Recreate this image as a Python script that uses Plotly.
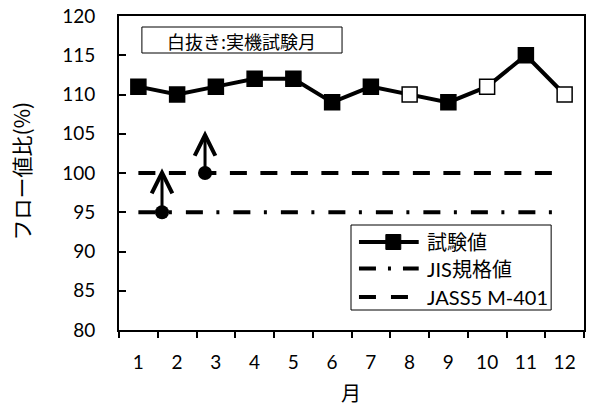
import plotly.graph_objects as go

# ---- data -------------------------------------------------------------
months = list(range(1, 13))
month_labels = [str(m) for m in months]
flow_ratio = [111, 110, 111, 112, 112, 109, 111, 110, 109, 111, 115, 110]
# months where the real-machine test was run (drawn as open squares)
field_test = [False, False, False, False, False, False, False, True, False, True, False, True]

jis_value = 95          # JIS standard
jass_value = 100        # JASS5 M-401
limit_span = [1, 12]

# lower-limit markers with "at least" arrows
limit_x = [1.61, 2.72]
limit_y = [jis_value, jass_value]
limit_tip = [100.6, 105.4]

series_name = "試験値"
jis_name = "JIS規格値"
jass_name = "JASS5 M-401"
note_text = "白抜き:実機試験月"
x_title = "月"
y_title = "フロー値比(%)"

# ---- layout geometry ---------------------------------------------------
W, H = 590, 408
L, R, T, B = 119, 4, 16, 78
PW = W - L - R
PH = H - T - B


def px(x):
    return (x - L) / PW


def py(y):
    return (H - B - y) / PH


NUM_FONT = "Lato, Noto Sans CJK JP, sans-serif"
CJK_FONT = "Noto Sans CJK JP, sans-serif"
JASS_DASH = "17px,13.5px"
JIS_DASH = "17px,13.5px,3px,14px"

fig = go.Figure()

fig.add_trace(go.Scatter(
    x=limit_span, y=[jass_value] * 2, mode="lines", name=jass_name,
    line=dict(color="black", width=4, dash=JASS_DASH), showlegend=False))
fig.add_trace(go.Scatter(
    x=limit_span, y=[jis_value] * 2, mode="lines", name=jis_name,
    line=dict(color="black", width=4, dash=JIS_DASH), showlegend=False))

fig.add_trace(go.Scatter(
    x=months, y=flow_ratio, mode="lines+markers", name=series_name,
    line=dict(color="black", width=4),
    marker=dict(symbol="square", size=15,
                color=["white" if f else "black" for f in field_test],
                line=dict(color="black", width=1.5)),
    showlegend=False))

fig.add_trace(go.Scatter(
    x=limit_x, y=limit_y, mode="markers",
    marker=dict(symbol="circle", size=14, color="black"),
    showlegend=False))

annotations = []
for x0, y0, y1 in zip(limit_x, limit_y, limit_tip):
    annotations.append(dict(
        x=x0, y=y1, ax=x0, ay=y0, xref="x", yref="y", axref="x", ayref="y",
        text="", showarrow=True, arrowhead=5, arrowsize=1.35, arrowwidth=3,
        arrowcolor="black"))

shapes = []
# note box
shapes.append(dict(type="rect", xref="paper", yref="paper",
                   x0=px(142), x1=px(343), y0=py(53), y1=py(27),
                   line=dict(color="black", width=1), fillcolor="white", layer="above"))
annotations.append(dict(text=note_text, xref="paper", yref="paper",
                        x=px(242.5), y=py(40.5), xanchor="center", yanchor="middle",
                        showarrow=False, font=dict(family=CJK_FONT, size=18, color="black")))

# legend box
shapes.append(dict(type="rect", xref="paper", yref="paper",
                   x0=px(352), x1=px(553), y0=py(310), y1=py(225),
                   line=dict(color="black", width=1), fillcolor="white", layer="above"))
rows = [242, 268.5, 297]
dashes = ["solid", "17px,12px,3px,12px", "17px,15px"]
labels = [series_name, jis_name, jass_name]
for ry, dsh, lab in zip(rows, dashes, labels):
    shapes.append(dict(type="line", xref="paper", yref="paper",
                       x0=px(360), x1=px(420), y0=py(ry), y1=py(ry),
                       line=dict(color="black", width=4, dash=dsh), layer="above"))
    annotations.append(dict(text=lab, xref="paper", yref="paper",
                            x=px(426), y=py(ry), xanchor="left", yanchor="middle",
                            showarrow=False,
                            font=dict(family=NUM_FONT, size=20, color="black")))
shapes.append(dict(type="rect", xref="paper", yref="paper",
                   x0=px(387), x1=px(402), y0=py(249.5), y1=py(234.5),
                   line=dict(color="black", width=1), fillcolor="black", layer="above"))

# axis titles
annotations.append(dict(text=x_title, xref="paper", yref="paper",
                        x=px(352), y=py(392), xanchor="center", yanchor="middle",
                        showarrow=False, borderpad=0,
                        font=dict(family=CJK_FONT, size=20, color="black")))
annotations.append(dict(text=y_title, xref="paper", yref="paper",
                        x=px(21), y=py(171), xanchor="center", yanchor="middle",
                        textangle=-90, showarrow=False,
                        font=dict(family=CJK_FONT, size=21, color="black")))

boundaries = [m - 0.5 for m in months] + [months[-1] + 0.5]

fig.update_layout(
    width=W, height=H, margin=dict(l=L, r=R, t=T, b=B),
    paper_bgcolor="white", plot_bgcolor="white",
    shapes=shapes, annotations=annotations, showlegend=False,
    xaxis=dict(range=[boundaries[0], boundaries[-1]], tickvals=months, ticktext=month_labels,
               ticks="", showline=True, mirror=True, linecolor="black", linewidth=2,
               showgrid=False, zeroline=False, ticklabelstandoff=14,
               tickfont=dict(family=NUM_FONT, size=19, color="black"),
               minor=dict(tickvals=boundaries, ticks="outside", ticklen=6,
                          tickwidth=1.5, tickcolor="black", showgrid=False)),
    yaxis=dict(range=[80, 120], dtick=5, ticks="inside", ticklen=7, tickwidth=1.5,
               tickcolor="black", showline=True, mirror=True, linecolor="black",
               linewidth=2, showgrid=False, zeroline=False, ticklabelstandoff=18,
               tickfont=dict(family=NUM_FONT, size=19, color="black")),
)

fig.write_html("out.html")
